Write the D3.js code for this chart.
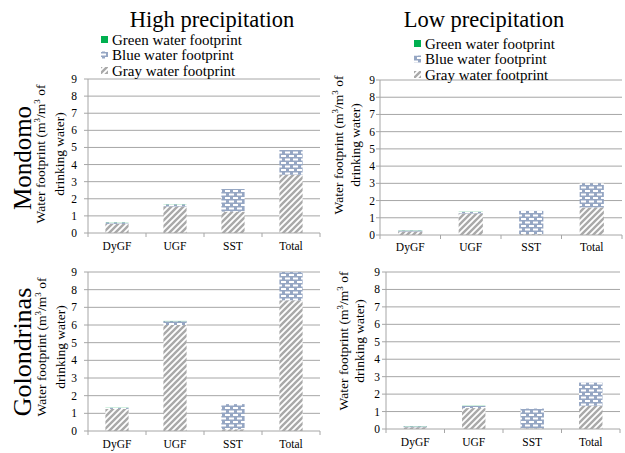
<!DOCTYPE html>
<html>
<head>
<meta charset="utf-8">
<script src="https://cdn.jsdelivr.net/npm/d3@7"></script>
<style>
body { margin: 0; background: #fff; }
svg, text, tspan { font-family: "Liberation Serif", "Times New Roman", Times, serif; }
text { fill: #000; }
</style>
</head>
<body>
<svg id="viz" width="625" height="453" font-family="Liberation Serif, Times New Roman, serif"></svg>
<script>
var categories = ["DyGF", "UGF", "SST", "Total"];
var yTicks = [0, 1, 2, 3, 4, 5, 6, 7, 8, 9];
var seriesNames = ["Green water footprint", "Blue water footprint", "Gray water footprint"];

// high precipitation, Mondomo
var highMondomoGray  = [0.53, 1.55, 1.25, 3.40];
var highMondomoBlue  = [0.09, 0.12, 1.32, 1.45];
var highMondomoGreen = [0.01, 0.01, 0.00, 0.00];
// high precipitation, Golondrinas
var highGolonGray  = [1.25, 6.00, 0.10, 7.40];
var highGolonBlue  = [0.06, 0.22, 1.42, 1.60];
var highGolonGreen = [0.01, 0.01, 0.00, 0.00];
// low precipitation, Mondomo
var lowMondomoGray  = [0.20, 1.25, 0.05, 1.60];
var lowMondomoBlue  = [0.06, 0.09, 1.35, 1.40];
var lowMondomoGreen = [0.01, 0.01, 0.00, 0.00];
// low precipitation, Golondrinas
var lowGolonGray  = [0.10, 1.20, 0.03, 1.33];
var lowGolonBlue  = [0.05, 0.12, 1.14, 1.33];
var lowGolonGreen = [0.01, 0.01, 0.00, 0.00];

var svg = d3.select("#viz");
var defs = svg.append("defs");

// gray hatch
var pg = defs.append("pattern").attr("id", "grayPat")
    .attr("patternUnits", "userSpaceOnUse").attr("width", 6).attr("height", 6);
pg.append("rect").attr("width", 6).attr("height", 6).attr("fill", "#fff");
pg.append("path").attr("d", "M-1,7L7,-1M-4,4L4,-4M2,10L10,2")
    .attr("stroke", "#a9a9a9").attr("stroke-width", 2.4);

// blue bricks
var pb = defs.append("pattern").attr("id", "bluePat")
    .attr("patternUnits", "userSpaceOnUse").attr("width", 8).attr("height", 7);
pb.append("rect").attr("width", 8).attr("height", 7).attr("fill", "#95a6c3");
pb.append("rect").attr("x", 1).attr("y", 1).attr("width", 5).attr("height", 2).attr("fill", "#fff");
pb.append("rect").attr("x", -3).attr("y", 4.5).attr("width", 5).attr("height", 2).attr("fill", "#fff");
pb.append("rect").attr("x", 5).attr("y", 4.5).attr("width", 5).attr("height", 2).attr("fill", "#fff");

var fills = {green: "#00b050", blue: "url(#bluePat)", gray: "url(#grayPat)"};

var panels = [
  {x0: 88, x1: 320, yTop: 79, yBot: 233, gray: highMondomoGray, blue: highMondomoBlue, green: highMondomoGreen,
   tickX: 77, titleX: [45, 64], titleY: 154, labY: 250},
  {x0: 88, x1: 320, yTop: 272, yBot: 431, gray: highGolonGray, blue: highGolonBlue, green: highGolonGreen,
   tickX: 77, titleX: [46, 65], titleY: 347, labY: 448},
  {x0: 380, x1: 622, yTop: 80, yBot: 235, gray: lowMondomoGray, blue: lowMondomoBlue, green: lowMondomoGreen,
   tickX: 375, titleX: [343, 360], titleY: 145, labY: 251},
  {x0: 386, x1: 620, yTop: 272, yBot: 429, gray: lowGolonGray, blue: lowGolonBlue, green: lowGolonGreen,
   tickX: 380, titleX: [348, 364], titleY: 341, labY: 446}
];

panels.forEach(function(p) {
  var x = d3.scaleBand().domain(categories).range([p.x0, p.x1]).paddingInner(0.6).paddingOuter(0.3);
  var y = d3.scaleLinear().domain([0, 9]).range([p.yBot, p.yTop]);
  var g = svg.append("g");

  // grid
  g.selectAll(".grid").data(yTicks.slice(1)).enter().append("line")
    .attr("x1", p.x0).attr("x2", p.x1)
    .attr("y1", function(d) { return y(d); }).attr("y2", function(d) { return y(d); })
    .attr("stroke", "#a6a6a6").attr("stroke-width", 1);

  // stacked bars
  var rows = categories.map(function(c, i) {
    return {cat: c, gray: p.gray[i], blue: p.blue[i], green: p.green[i]};
  });
  var stack = d3.stack().keys(["gray", "blue", "green"])(rows);
  stack.forEach(function(layer) {
    g.selectAll(null).data(layer).enter().append("rect")
      .attr("x", function(d) { return x(d.data.cat); })
      .attr("width", x.bandwidth())
      .attr("y", function(d) { return y(d[1]); })
      .attr("height", function(d) { return Math.max(0, y(d[0]) - y(d[1])); })
      .attr("fill", fills[layer.key]);
  });

  // axes
  g.append("line").attr("x1", p.x0).attr("x2", p.x0).attr("y1", p.yTop).attr("y2", p.yBot)
    .attr("stroke", "#a6a6a6");
  g.append("line").attr("x1", p.x0).attr("x2", p.x1).attr("y1", p.yBot).attr("y2", p.yBot)
    .attr("stroke", "#a6a6a6");
  g.selectAll(".yt").data(yTicks).enter().append("line")
    .attr("x1", p.x0 - 4).attr("x2", p.x0)
    .attr("y1", function(d) { return y(d); }).attr("y2", function(d) { return y(d); })
    .attr("stroke", "#a6a6a6");
  var step = x.step();
  g.selectAll(".xt").data([0, 1, 2, 3, 4]).enter().append("line")
    .attr("x1", function(d) { return x(categories[0]) - step * 0.3 + d * step; })
    .attr("x2", function(d) { return x(categories[0]) - step * 0.3 + d * step; })
    .attr("y1", p.yBot).attr("y2", p.yBot + 4)
    .attr("stroke", "#a6a6a6");

  g.selectAll(".yl").data(yTicks).enter().append("text")
    .attr("x", p.tickX).attr("y", function(d) { return y(d) + 4; })
    .attr("text-anchor", "end").style("font-size", "11.5px")
    .text(function(d) { return d; });

  g.selectAll(".xl").data(categories).enter().append("text")
    .attr("x", function(d) { return x(d) + x.bandwidth() / 2; })
    .attr("y", p.labY).attr("text-anchor", "middle").style("font-size", "11.5px")
    .text(function(d) { return d; });

  // y title
  var t1 = g.append("text").attr("transform", "translate(" + p.titleX[0] + "," + p.titleY + ") rotate(-90)")
    .attr("text-anchor", "middle").style("font-size", "13.5px");
  t1.append("tspan").text("Water footprint (m");
  t1.append("tspan").attr("dy", -5).style("font-size", "9px").text("3");
  t1.append("tspan").attr("dy", 5).text("/m");
  t1.append("tspan").attr("dy", -5).style("font-size", "9px").text("3");
  t1.append("tspan").attr("dy", 5).text(" of");
  g.append("text").attr("transform", "translate(" + p.titleX[1] + "," + p.titleY + ") rotate(-90)")
    .attr("text-anchor", "middle").style("font-size", "13.5px").text("drinking water)");
});

// column titles
svg.append("text").attr("x", 212).attr("y", 27).attr("text-anchor", "middle")
  .style("font-size", "22.5px").text("High precipitation");
svg.append("text").attr("x", 484).attr("y", 27).attr("text-anchor", "middle")
  .style("font-size", "22.5px").text("Low precipitation");

// row titles
svg.append("text").attr("transform", "translate(31,158) rotate(-90)").attr("text-anchor", "middle")
  .style("font-size", "25px").text("Mondomo");
svg.append("text").attr("transform", "translate(31,352) rotate(-90)").attr("text-anchor", "middle")
  .style("font-size", "26px").text("Golondrinas");

// legends
var legendKeys = ["green", "blue", "gray"];
[{x: 101, y: 40}, {x: 414, y: 44}].forEach(function(l) {
  var lg = svg.append("g");
  lg.selectAll("rect").data(legendKeys).enter().append("rect")
    .attr("x", l.x).attr("y", function(d, i) { return l.y + i * 15.5 - 4; })
    .attr("width", 7).attr("height", 7).attr("fill", function(d) { return fills[d]; });
  lg.selectAll("text").data(seriesNames).enter().append("text")
    .attr("x", l.x + 11).attr("y", function(d, i) { return l.y + i * 15.5 + 4.5; })
    .style("font-size", "15px").text(function(d) { return d; });
});
</script>
</body>
</html>
